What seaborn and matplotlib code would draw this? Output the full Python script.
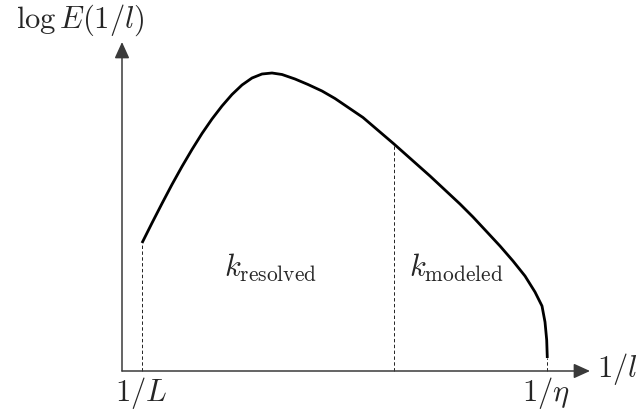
import matplotlib
matplotlib.use("Agg")
import matplotlib.pyplot as plt
import seaborn as sns
import pandas as pd

# Schematic energy spectrum: wavenumber (arbitrary units) vs log E
k_vals = [0.20, 0.30, 0.40, 0.50, 0.60, 0.70, 0.80, 0.90, 1.00, 1.10,
          1.20, 1.30, 1.40, 1.50, 1.60, 1.73, 1.86, 2.00, 2.13, 2.41,
          2.72, 3.08, 3.23, 3.38, 3.51, 3.65, 3.78, 3.91, 4.03, 4.13,
          4.20, 4.23, 4.247, 4.253]
logE_vals = [1.28, 1.48, 1.675, 1.865, 2.045, 2.215, 2.375, 2.52, 2.65, 2.765,
             2.86, 2.93, 2.97, 2.98, 2.965, 2.92, 2.865, 2.80, 2.725, 2.535,
             2.27, 1.95, 1.81, 1.67, 1.54, 1.39, 1.25, 1.10, 0.95, 0.79,
             0.65, 0.49, 0.31, 0.13]

# Marked wavenumbers: 1/L, cutoff, 1/eta and the curve height there
mark_k = [0.20, 2.72, 4.253]
mark_E = [1.28, 2.27, 0.13]
tick_labels = ["$1/L$", "", "$1/\\eta$"]
region_labels = ["$k_{\\mathrm{resolved}}$", "$k_{\\mathrm{modeled}}$"]
region_x = [1.48, 3.345]
region_y = [0.94, 0.94]
axis_x_label = "$1/l$"
axis_y_label = "$\\log E(1/l)$"
x_max, y_max = 4.68, 3.29

sns.set_theme(style="white")
plt.rcParams["mathtext.fontset"] = "cm"
plt.rcParams["font.family"] = ["DejaVu Serif"]

W, H = 638, 412
fig = plt.figure(figsize=(W / 100, H / 100), dpi=100)
ax = fig.add_axes([122 / W, (H - 371) / H, 468 / W, 329 / H])
ax.set_xlim(0, x_max)
ax.set_ylim(0, y_max)
ax.axis("off")

df = pd.DataFrame({"k": k_vals, "logE": logE_vals})
sns.lineplot(data=df, x="k", y="logE", sort=False, estimator=None,
             color="black", linewidth=2.0, ax=ax)
for line in ax.lines:
    line.set_solid_capstyle("butt")
    line.set_solid_joinstyle("round")
    line.set_clip_on(False)

# dashed verticals
for kx, ey in zip(mark_k, mark_E):
    ax.plot([kx, kx], [0, ey], color="#222222", linewidth=0.7,
            linestyle=(0, (3.5, 2.5)), clip_on=False, zorder=1)

# axes with arrows
arrow_kw = dict(arrowstyle="-|>,head_length=0.55,head_width=0.25",
                color="#3a3a3a", lw=1.1, shrinkA=0, shrinkB=0,
                mutation_scale=18)
ax.annotate("", xy=(x_max, 0), xytext=(0, 0), arrowprops=arrow_kw,
            annotation_clip=False)
ax.annotate("", xy=(0, y_max), xytext=(0, 0), arrowprops=arrow_kw,
            annotation_clip=False)

fs = 22
for kx, lab in zip(mark_k, tick_labels):
    if lab:
        ax.text(kx - 0.01, -0.30, lab, ha="center", va="baseline",
                fontsize=fs, clip_on=False)
ax.text(x_max + 0.07, -0.06, axis_x_label, ha="left", va="baseline",
        fontsize=fs, clip_on=False)
ax.text(-0.42, y_max + 0.22, axis_y_label, ha="center", va="center",
        fontsize=fs, clip_on=False)
for x, y, lab in zip(region_x, region_y, region_labels):
    ax.text(x, y, lab, ha="center", va="baseline", fontsize=fs)

fig.savefig("out.png", dpi=100, facecolor="white")
